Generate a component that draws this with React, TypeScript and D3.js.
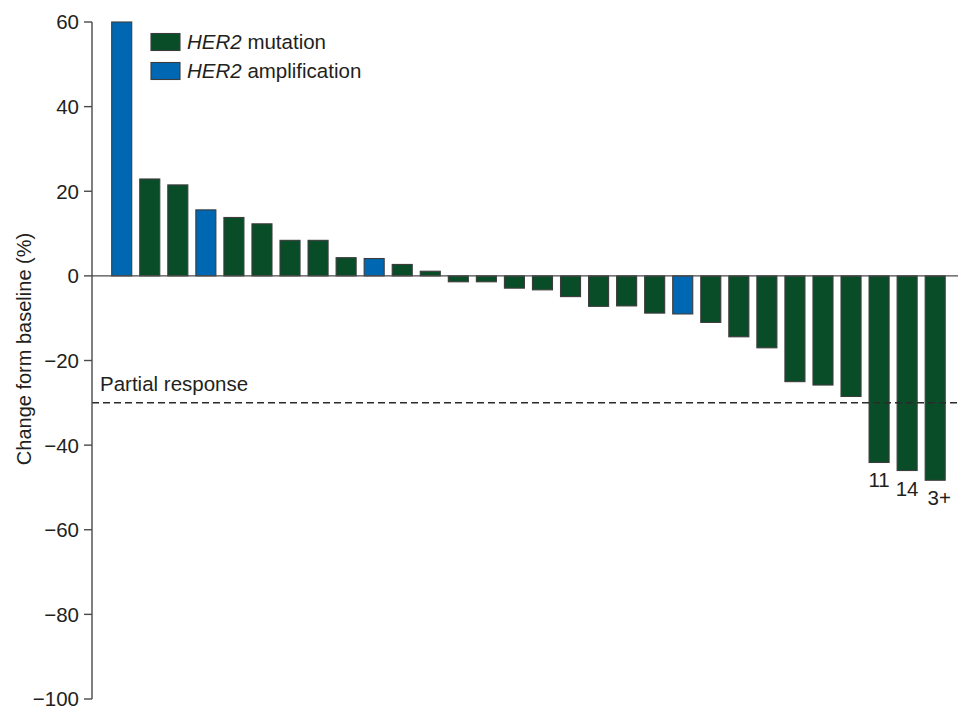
import React from "react";
import * as d3 from "d3";

const values: number[] = [
  60, 22.9, 21.5, 15.6, 13.8, 12.3, 8.4, 8.4, 4.3, 4.1, 2.7, 1.1, -1.4, -1.4, -2.9,
  -3.3, -4.9, -7.2, -7.1, -8.8, -9.0, -11.0, -14.4, -17.0, -25.0, -25.8, -28.5, -44.1, -46.0, -48.3,
];
const types: string[] = [
  "amp", "mut", "mut", "amp", "mut", "mut", "mut", "mut", "mut", "amp", "mut", "mut", "mut", "mut", "mut",
  "mut", "mut", "mut", "mut", "mut", "amp", "mut", "mut", "mut", "mut", "mut", "mut", "mut", "mut", "mut",
];
const barLabels: string[] = [
  "", "", "", "", "", "", "", "", "", "", "", "", "", "", "",
  "", "", "", "", "", "", "", "", "", "", "", "", "11", "14", "3+",
];
const yTicks: number[] = [60, 40, 20, 0, -20, -40, -60, -80, -100];
const legendItems: { key: string; gene: string; label: string }[] = [
  { key: "mut", gene: "HER2", label: " mutation" },
  { key: "amp", gene: "HER2", label: " amplification" },
];
const partialResponse = -30;

const COLORS: Record<string, string> = { mut: "#084d28", amp: "#0067b3" };
const FONT = "'Liberation Sans', Arial, Helvetica, sans-serif";
const TEXT = "#231f20";
const AXIS = "#4a4a4a";
const FS = 20.5;

export default function App() {
  const W = 958;
  const H = 707;
  const axisX = 92;
  const y = d3.scaleLinear().domain([-100, 60]).range([699, 22]);
  const pad = 0.286;
  const x = d3
    .scaleBand<number>()
    .domain(values.map((_, i) => i))
    .range([111.7, 945.2])
    .paddingInner(pad)
    .paddingOuter(0);
  const bw = x.bandwidth();
  const fmt = (v: number) => (v < 0 ? "\u2212" + Math.abs(v) : String(v));

  return (
    <svg
      width={W}
      height={H}
      style={{ position: "absolute", left: 0, top: 0, background: "#fff" }}
      fontFamily={FONT}
    >
      {/* bars */}
      {values.map((v, i) => {
        const y0 = y(Math.max(0, v));
        const y1 = y(Math.min(0, v));
        return (
          <rect
            key={i}
            x={x(i)}
            y={y0}
            width={bw}
            height={y1 - y0}
            fill={COLORS[types[i]]}
            stroke="#3c3c3c"
            strokeWidth={1.1}
          />
        );
      })}
      {/* zero line */}
      <line x1={axisX} x2={W} y1={y(0)} y2={y(0)} stroke={AXIS} strokeWidth={1.4} />
      {/* partial response line */}
      <line
        x1={axisX}
        x2={W}
        y1={y(partialResponse)}
        y2={y(partialResponse)}
        stroke="#2a2a2a"
        strokeWidth={1.6}
        strokeDasharray="7,4"
      />
      <text x={100} y={y(partialResponse) - 12} fontSize={FS} fill={TEXT}>
        Partial response
      </text>
      {/* y axis */}
      <line x1={axisX} x2={axisX} y1={y(60)} y2={y(-100)} stroke={AXIS} strokeWidth={1.4} />
      {yTicks.map((t) => (
        <g key={t}>
          <line x1={axisX - 8} x2={axisX} y1={y(t)} y2={y(t)} stroke={AXIS} strokeWidth={1.4} />
          <text
            x={79}
            y={y(t)}
            dy="0.36em"
            textAnchor="end"
            fontSize={FS}
            fill={TEXT}
          >
            {fmt(t)}
          </text>
        </g>
      ))}
      <text
        transform={`translate(31,349) rotate(-90)`}
        textAnchor="middle"
        fontSize={20}
        fill={TEXT}
      >
        Change form baseline (%)
      </text>
      {/* bar labels */}
      {values.map((v, i) =>
        barLabels[i] ? (
          <text
            key={"l" + i}
            x={(x(i) as number) + bw / 2 + (i === values.length - 1 ? 4 : 0)}
            y={y(v) + 25}
            textAnchor="middle"
            fontSize={FS}
            fill={TEXT}
          >
            {barLabels[i]}
          </text>
        ) : null
      )}
      {/* legend */}
      {legendItems.map((it, k) => (
        <g key={it.key} transform={`translate(151,${33.5 + k * 29})`}>
          <rect width={29} height={17} fill={COLORS[it.key]} stroke="#3c3c3c" strokeWidth={1.1} />
          <text x={36} y={15} fontSize={FS} fill={TEXT}>
            <tspan fontStyle="italic">{it.gene}</tspan>
            {it.label}
          </text>
        </g>
      ))}
    </svg>
  );
}
